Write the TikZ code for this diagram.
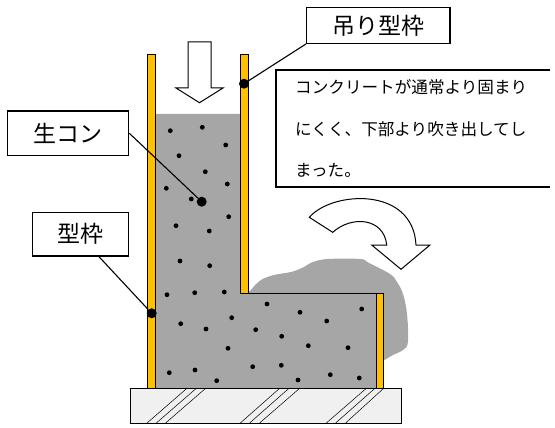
\documentclass[tikz,border=0pt]{standalone}
\usepackage{fontspec}
\setmainfont{Noto Sans CJK JP}
\definecolor{FormOrange}{HTML}{FFC000}
\definecolor{ConcGrey}{HTML}{A6A6A6}
\definecolor{SlabGrey}{HTML}{F0F0F0}
\usepackage{tikz}
\usetikzlibrary{positioning}

\begin{document}
\begin{tikzpicture}[x=1pt,y=-1pt,
		label box/.style={draw,line width=1.3pt,fill=white,font=\fontsize{23}{23}\selectfont},
		lead/.style={line width=1.1pt},
		pin dot/.style={circle,fill,inner sep=0pt,minimum size=10pt},
		form/.style={fill=FormOrange,draw=black,line width=0.6pt},
		hollow arrow/.style={fill=white,draw=black,line width=1pt,line join=miter}
	]
	\useasboundingbox (0,0) rectangle (555,428);

	% splash coming out under the lifted form
	\fill[ConcGrey] plot[smooth cycle,tension=0.6] coordinates {
		(246,300) (251,290) (261,280) (274,275) (291,272) (302,268) (313,262)
		(328,259) (360,259) (369,263) (390,274) (397,282) (403,294) (407,314)
		(408,342) (403,350) (393,355) (382,361) (372,362) (300,330)};

	% fresh concrete
	\fill[ConcGrey] (155,114) -- (240,114) -- (240,293) -- (377,293)
		-- (377,388) -- (155,388) -- cycle;
	\draw[line width=0.8pt] (240,293) -- (377,293);
	\foreach \px/\py in {170.3/130.7,202.3/127.3,225.7/145,179/155.7,205.3/171.7,
		227.3/184,166.3/188.3,191.3/199,228.7/216.7,176/225.7,209.3/231,180/261,
		209.7/265.7,167/294.7,194.7/292.7,224.3/292,267/304,300/312.3,361.7/309,
		326.7/321,180.7/323.7,206/329,231.7/317.7,255.7/329.7,281.7/336.3,228/348.3,
		308.3/345.7,348/347.7,169.3/372.7,195/370,216.7/380.7,252.7/366.7,
		281.3/365.3,298/380,330.3/374.7,359.3/378}
		\fill (\px,\py) circle (2.4pt);

	% forms
	\draw[form] (147.5,54) rectangle (155.3,388);
	\draw[form] (240.3,54) rectangle (248.3,293);
	\draw[form] (376.7,293) rectangle (383.3,388);

	% slab
	\draw[fill=SlabGrey,line width=0.8pt] (130.7,388) rectangle (401.7,423.3);
	\foreach \bx/\tx in {146.7/187.3,156/196.7,165.3/206,240/280,249.3/289.3,
		259.3/300,326/366.7,335.3/375.3,345.3/384}
		\draw[line width=0.5pt] (\bx,423.3) -- (\tx,388);

	% pouring and blow-out arrows
	\draw[hollow arrow] (188,42) -- (211,42) -- (211,88) -- (223,88)
		-- (199.5,102.7) -- (176,88) -- (188,88) -- cycle;
	\draw[hollow arrow] (309.3,217.3) .. controls (332,191) and (413,186) .. (416,245)
		-- (430,245) -- (401,269.3) -- (371.7,245) -- (386.7,245)
		.. controls (384,218) and (352,215) .. (332.7,232.3) -- cycle;

	% labels
	\node[label box,minimum width=121.4pt,minimum height=44.7pt] (nama) at (68,133.3) {生コン};
	\node[label box,minimum width=95.6pt,minimum height=43.7pt] (kata) at (80.5,234.2) {型枠};
	\node[label box,minimum width=143.3pt,minimum height=36pt] (tsuri) at (378.3,25.3) {吊り型枠};
	\node[anchor=north west,text width=236pt,
		minimum height=116.7pt,align=left,inner xsep=19pt,
		font=\fontsize{16.6}{41.5}\selectfont] (note) at (276,70)
		{コンクリートが通常より固まり\\にくく、下部より吹き出してし\\まった。};
	% the note box is open on the right
	\draw[line width=1.3pt] (note.north east) -- (note.north west)
		-- (note.south west) -- (note.south east);

	\node[pin dot] (p1) at (201.7,201.7) {};
	\node[pin dot] (p2) at (151.7,313.3) {};
	\node[pin dot] (p3) at (244,83.7) {};

	\draw[lead] (nama.east) -- (p1);
	\draw[lead] ([xshift=18.5pt]kata.south) -- (p2);
	\draw[lead] (tsuri.south west) -- (p3);
\end{tikzpicture}
\end{document}
